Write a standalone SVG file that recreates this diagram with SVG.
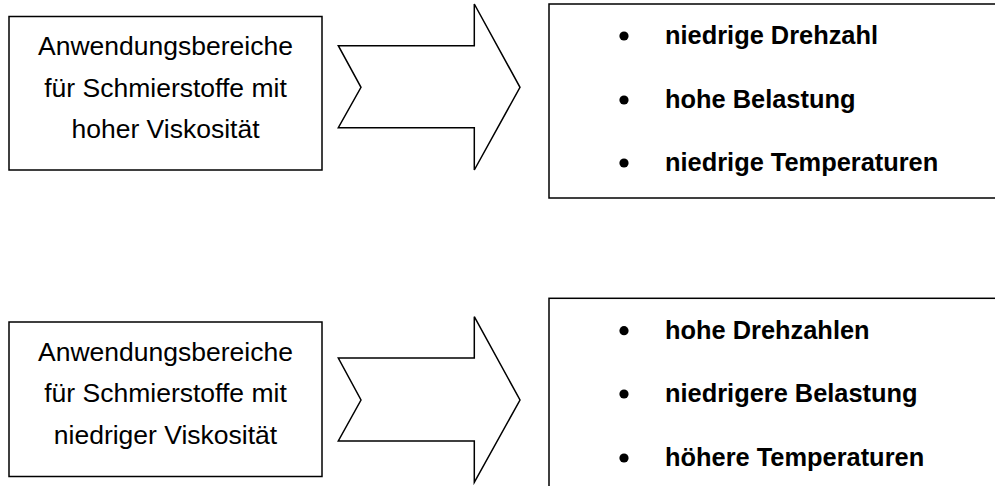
<svg xmlns="http://www.w3.org/2000/svg" width="995" height="486" viewBox="0 0 995 486">
  <style>
    .box { fill: #ffffff; stroke: #000000; stroke-width: 1.5; }
    .arrow { fill: #ffffff; stroke: #000000; stroke-width: 1.5; stroke-linejoin: miter; }
    .lbl { font-family: "Liberation Sans", Arial, sans-serif; font-size: 26.5px; fill: #000000; text-anchor: middle; }
    .item { font-family: "Liberation Sans", Arial, sans-serif; font-size: 25.4px; font-weight: bold; fill: #000000; }
    .dot { fill: #000000; }
  </style>
  <rect x="0" y="0" width="995" height="486" fill="#ffffff"/>

  <g id="connectors">
    <polygon id="arrow-top" class="arrow" points="338.3,45.7 474.3,45.7 474.3,4 520,87.3 474.3,170 474.3,127.7 338.3,127.7 361,87.3"/>
    <polygon id="arrow-bottom" class="arrow" points="338.3,358 474.3,358 474.3,316.7 520,400 474.3,482.3 474.3,441 338.3,441 361,400"/>
  </g>

  <g id="node-high-viscosity">
    <rect class="box" x="9" y="16.5" width="313" height="153.5"/>
    <text class="lbl" x="165.5" y="55">Anwendungsbereiche</text>
    <text class="lbl" x="165.5" y="96.5">für Schmierstoffe mit</text>
    <text class="lbl" x="165.5" y="138">hoher Viskosität</text>
  </g>

  <g id="node-high-list">
    <rect class="box" x="549" y="4" width="470" height="194"/>
    <circle class="dot" cx="624" cy="36" r="4.6"/>
    <text class="item" x="665" y="44">niedrige Drehzahl</text>
    <circle class="dot" cx="624" cy="100" r="4.6"/>
    <text class="item" x="665" y="108">hohe Belastung</text>
    <circle class="dot" cx="624" cy="163" r="4.6"/>
    <text class="item" x="665" y="171">niedrige Temperaturen</text>
  </g>

  <g id="node-low-viscosity">
    <rect class="box" x="9" y="322" width="313" height="154.5"/>
    <text class="lbl" x="165.5" y="360.5">Anwendungsbereiche</text>
    <text class="lbl" x="165.5" y="402">für Schmierstoffe mit</text>
    <text class="lbl" x="165.5" y="443.5">niedriger Viskosität</text>
  </g>

  <g id="node-low-list">
    <rect class="box" x="549" y="298.3" width="470" height="220"/>
    <circle class="dot" cx="624" cy="330.7" r="4.6"/>
    <text class="item" x="665" y="338.5">hohe Drehzahlen</text>
    <circle class="dot" cx="624" cy="394" r="4.6"/>
    <text class="item" x="665" y="402">niedrigere Belastung</text>
    <circle class="dot" cx="624" cy="458" r="4.6"/>
    <text class="item" x="665" y="466">höhere Temperaturen</text>
  </g>
</svg>
